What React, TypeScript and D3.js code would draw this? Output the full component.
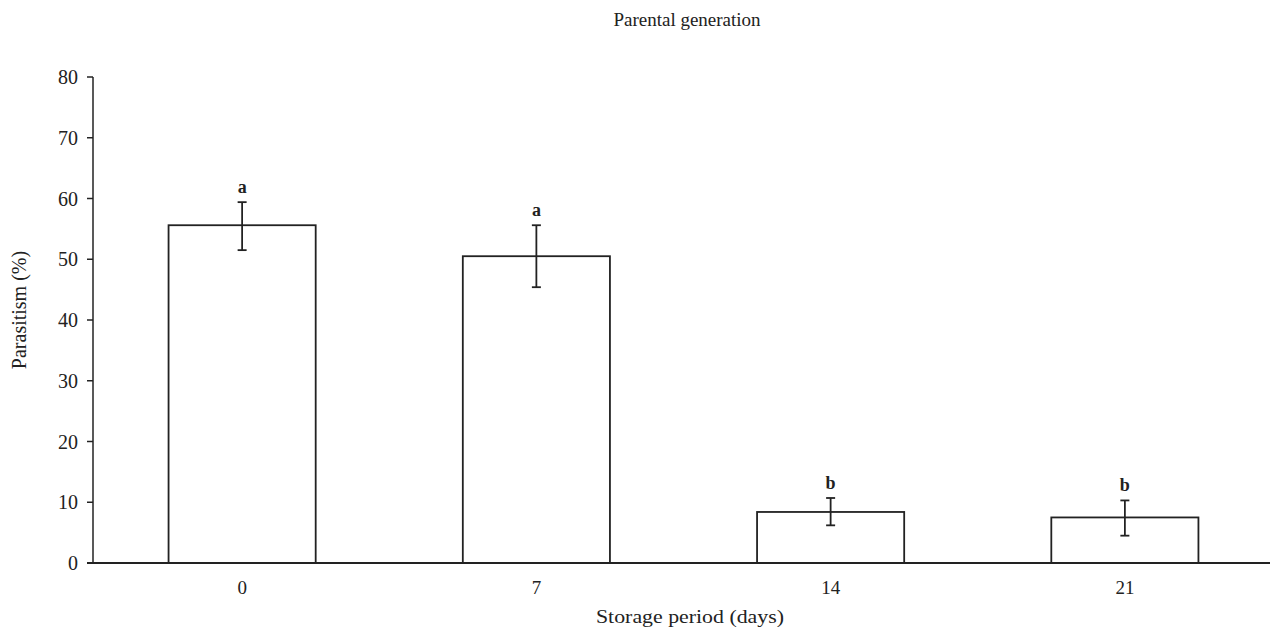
import React from 'react';
import * as d3 from 'd3';

const days = ['0', '7', '14', '21'];
const parasitism = [55.6, 50.5, 8.4, 7.5];
const errHigh = [59.4, 55.6, 10.7, 10.3];
const errLow = [51.5, 45.4, 6.2, 4.5];
const groups = ['a', 'a', 'b', 'b'];
const yTicks = [0, 10, 20, 30, 40, 50, 60, 70, 80];

const width = 1270;
const height = 627;
const margin = { top: 77, right: -2, bottom: 64, left: 93 };
const font = '"Liberation Serif", "Times New Roman", serif';
const ink = '#222';

const App = () => {
    const x = d3
        .scaleBand()
        .domain(days)
        .range([margin.left + 2, width - margin.right])
        .paddingInner(0.5)
        .paddingOuter(0.25);

    const y = d3
        .scaleLinear()
        .domain([0, 80])
        .range([height - margin.bottom, margin.top]);

    const base = y(0);

    return (
        <svg width={width} height={height} style={{ position: 'absolute', left: 0, top: 0, background: '#fff' }}>
            <text x={687} y={26} fontFamily={font} fontSize={19} fill={ink} textAnchor="middle">
                Parental generation
            </text>

            {/* y axis */}
            <line x1={margin.left} x2={margin.left} y1={y(80)} y2={base} stroke={ink} strokeWidth={1.5} />
            {yTicks.map((t) => (
                <g key={t}>
                    <line x1={margin.left - 6} x2={margin.left} y1={y(t)} y2={y(t)} stroke={ink} strokeWidth={1.5} />
                    <text
                        x={margin.left - 15}
                        y={y(t)}
                        dy="0.35em"
                        textAnchor="end"
                        fontFamily={font}
                        fontSize={20}
                        fill={ink}
                    >
                        {t}
                    </text>
                </g>
            ))}
            <text
                transform={`translate(26,310) rotate(-90)`}
                textAnchor="middle"
                fontFamily={font}
                fontSize={20}
                fill={ink}
            >
                Parasitism (%)
            </text>

            {/* bars */}
            {days.map((d, i) => {
                const bx = x(d) as number;
                const cx = bx + x.bandwidth() / 2;
                return (
                    <g key={d}>
                        <rect
                            x={bx}
                            y={y(parasitism[i])}
                            width={x.bandwidth()}
                            height={base - y(parasitism[i])}
                            fill="#fff"
                            stroke={ink}
                            strokeWidth={1.8}
                        />
                        <line x1={cx} x2={cx} y1={y(errHigh[i])} y2={y(errLow[i])} stroke={ink} strokeWidth={1.8} />
                        <line x1={cx - 4.5} x2={cx + 4.5} y1={y(errHigh[i])} y2={y(errHigh[i])} stroke={ink} strokeWidth={1.8} />
                        <line x1={cx - 4.5} x2={cx + 4.5} y1={y(errLow[i])} y2={y(errLow[i])} stroke={ink} strokeWidth={1.8} />
                        <text
                            x={cx}
                            y={y(errHigh[i]) - 9}
                            textAnchor="middle"
                            fontFamily={font}
                            fontSize={18}
                            fontWeight="bold"
                            fill={ink}
                        >
                            {groups[i]}
                        </text>
                        <text
                            x={cx}
                            y={base + 31}
                            textAnchor="middle"
                            fontFamily={font}
                            fontSize={19}
                            fill={ink}
                        >
                            {d}
                        </text>
                    </g>
                );
            })}

            {/* x axis */}
            <line x1={margin.left - 6} x2={width} y1={base} y2={base} stroke={ink} strokeWidth={1.8} />
            <text x={690} y={623} textAnchor="middle" fontFamily={font} fontSize={19} fill={ink}
                transform="translate(690,0) scale(1.15,1) translate(-690,0)">
                Storage period (days)
            </text>
        </svg>
    );
};

export default App;
